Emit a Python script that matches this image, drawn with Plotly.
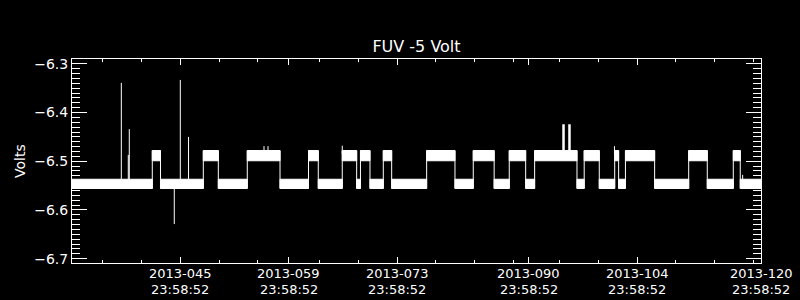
import pandas as pd
import plotly.graph_objects as go

# Transition times, fractional day-of-year 2013 (integer part = day number)
edges_doy = [31.9992, 42.37, 43.43, 48.96, 50.90, 54.64, 58.87, 62.55, 63.81, 66.91,
             68.77, 69.26, 70.49, 72.21, 73.29, 77.81, 81.47, 83.83, 86.53, 88.48,
             90.60, 91.76, 97.23, 98.16, 100.11, 102.10, 102.61, 103.49, 107.26,
             111.66, 114.06, 117.42, 118.32, 120.9992]
# state of each segment: 0 = low, 1 = high
states = [0, 1, 0, 1, 0, 1, 0, 1, 0, 1, 0, 1, 0, 1, 0, 1, 0, 1, 0, 1, 0,
          1, 0, 1, 0, 1, 0, 1, 0, 1, 0, 1, 0]
low_band = [-6.556, -6.537]
high_band = [-6.499, -6.478]

# isolated spikes
spike_doy = [38.37, 39.27, 39.40, 45.99, 47.05, 45.21, 56.80, 57.32, 66.91,
             95.49, 96.26, 102.07, 118.63]
spike_base = [-6.545, -6.545, -6.545, -6.545, -6.545, -6.545, -6.485, -6.485, -6.485,
              -6.485, -6.485, -6.485, -6.545]
spike_peak = [-6.339, -6.487, -6.434, -6.333, -6.450, -6.629, -6.469, -6.469, -6.468,
              -6.424, -6.424, -6.469, -6.528]
spike_width = [1, 1, 1, 1, 1, 1, 1, 1, 1, 2.5, 2.5, 1, 1]

major_doy = [45.9992, 59.9992, 73.9992, 90.9992, 104.9992, 120.9992]
major_date_text = ["2013-045", "2013-059", "2013-073", "2013-090", "2013-104", "2013-120"]
major_time_text = ["23:58:52"] * 6
minor_doy = [35.9992, 40.9992, 50.9992, 55.9992, 63.9992, 68.9992, 78.9992, 83.9992,
             88.9992, 94.9992, 99.9992, 109.9992, 114.9992, 119.9992]

BASE = pd.Timestamp("2013-01-01")


def to_dt(d):
    return BASE + pd.to_timedelta(d - 1, unit="D")


fig = go.Figure()

# bands
bx, by = [], []
for i, s in enumerate(states):
    t0, t1 = to_dt(edges_doy[i]), to_dt(edges_doy[i + 1])
    lo, hi = (high_band if s else low_band)
    bx += [t0, t1, t1, t0, t0, None]
    by += [lo, lo, hi, hi, lo, None]
fig.add_trace(go.Scatter(x=bx, y=by, mode="lines", fill="toself", fillcolor="white",
                         line=dict(color="white", width=1), hoverinfo="skip"))

# transitions
tx, ty = [], []
for e in edges_doy[1:-1]:
    tx += [to_dt(e), to_dt(e), None]
    ty += [low_band[0], high_band[1], None]
fig.add_trace(go.Scatter(x=tx, y=ty, mode="lines", line=dict(color="white", width=1),
                         hoverinfo="skip"))

# spikes
for d, b, p, w in zip(spike_doy, spike_base, spike_peak, spike_width):
    fig.add_trace(go.Scatter(x=[to_dt(d), to_dt(d)], y=[b, p], mode="lines",
                             line=dict(color="white", width=w), hoverinfo="skip"))

font = dict(family="DejaVu Sans", color="white", size=14)
xfont = dict(family="DejaVu Sans", color="white", size=13)

fig.update_layout(
    width=800, height=300,
    margin=dict(l=72, r=39, t=59, b=37),
    paper_bgcolor="black", plot_bgcolor="black",
    showlegend=False,
    font=font,
    title=dict(text="FUV -5 Volt", x=(416.5) / 800, xanchor="center", y=1 - 46 / 300,
               yanchor="middle", font=dict(family="DejaVu Sans", color="white", size=16)),
    xaxis=dict(
        type="date", automargin=False,
        range=[to_dt(edges_doy[0]), to_dt(edges_doy[-1])],
        tickmode="array", tickvals=[to_dt(d) for d in major_doy],
        showticklabels=False,
        ticks="inside", ticklen=6, tickcolor="white", tickwidth=1,
        minor=dict(tickmode="array", tickvals=[to_dt(d) for d in minor_doy],
                   ticks="inside", ticklen=3, tickcolor="white", tickwidth=1,
                   showgrid=False),
        showline=True, linecolor="white", linewidth=1, mirror="ticks",
        showgrid=False, zeroline=False,
    ),
    yaxis=dict(
        automargin=False,
        range=[-6.709, -6.29],
        tickmode="linear", tick0=-6.7, dtick=0.1, tickformat=".1f",
        ticks="inside", ticklen=15, tickcolor="white", tickwidth=1,
        minor=dict(dtick=0.01, tick0=-6.7, ticks="inside", ticklen=8,
                   tickcolor="white", tickwidth=1, showgrid=False),
        showline=True, linecolor="white", linewidth=1, mirror="ticks",
        showgrid=False, zeroline=False, tickfont=font,
    ),
)

# two-row x tick labels (date row and time row)
for d, t1, t2 in zip(major_doy, major_date_text, major_time_text):
    fig.add_annotation(text=t1, xref="x", yref="paper", x=to_dt(d), y=(263 - 273) / 204,
                       showarrow=False, xanchor="center", yanchor="middle", font=xfont,
                       borderpad=0)
    fig.add_annotation(text=t2, xref="x", yref="paper", x=to_dt(d), y=(263 - 289) / 204,
                       showarrow=False, xanchor="center", yanchor="middle", font=xfont,
                       borderpad=0)

fig.add_annotation(text="Volts", xref="paper", yref="paper", x=(20 - 72) / 689, y=0.5,
                   textangle=-90, showarrow=False, xanchor="center", yanchor="middle",
                   font=dict(family="DejaVu Sans", color="white", size=14))

fig.write_html("out.html")
